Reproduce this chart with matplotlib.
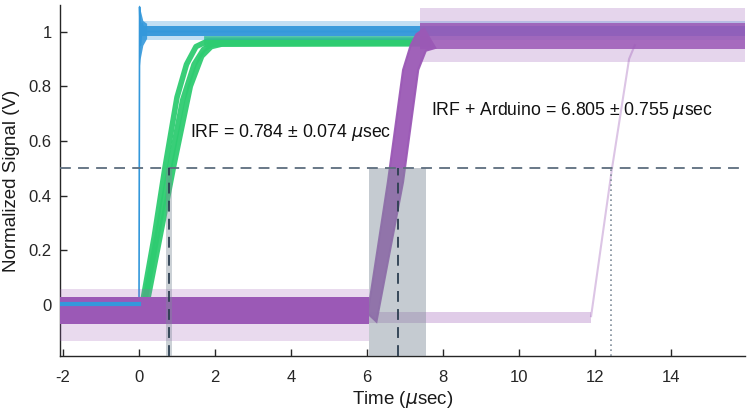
import numpy as np
import matplotlib
matplotlib.use("Agg")
import matplotlib.pyplot as plt

plt.rcParams['font.family'] = ['Liberation Sans', 'DejaVu Sans']
plt.rcParams['mathtext.fontset'] = 'dejavusans'

# ---------------- data ----------------
t_start, t_end = -2.08, 15.95

# IRF (blue) step trace
blue_t = [t_start, 0.0, 0.015, 0.04, 0.08, 0.15, t_end]
blue_v = [0.005, 0.005, 1.09, 0.95, 1.03, 1.0, 1.0]
blue_band_t = [0.05, t_end]
blue_band_lo = [0.982, 0.982]
blue_band_hi = [1.022, 1.022]
blue_spike_t = [0.0, 0.03, 0.1, 0.2]
blue_spike_lo = [0.86, 0.9, 0.95, 0.975]
blue_spike_hi = [1.1, 1.08, 1.04, 1.03]

# Photodiode (green) ramps: three strands
green_a_t = [t_start, 0.08, 0.4, 0.68, 1.0, 1.25, 1.5, 1.8, 7.6]
green_a_v = [0.0, 0.0, 0.25, 0.5, 0.76, 0.88, 0.945, 0.965, 0.965]
green_b_t = [t_start, 0.13, 0.5, 0.8, 1.15, 1.45, 1.7, 2.0, 7.6]
green_b_v = [0.0, 0.0, 0.27, 0.5, 0.75, 0.88, 0.935, 0.96, 0.96]
green_c_t = [t_start, 0.2, 0.58, 0.9, 1.35, 1.65, 1.9, 2.2, 7.6]
green_c_v = [0.0, 0.0, 0.27, 0.5, 0.8, 0.91, 0.945, 0.955, 0.955]
green_band_t = [1.7, 7.6]
green_band_lo = [0.945, 0.95]
green_band_hi = [0.985, 0.985]

# IRF + Arduino (purple)
purple_low_t = [t_start, 6.05]
purple_low_lo = [-0.07, -0.07]
purple_low_hi = [0.03, 0.03]
purple_low_faint_lo = [-0.13, -0.13]
purple_low_faint_hi = [0.06, 0.06]
purple_ramp_left_t = [6.02, 6.55, 6.95, 7.15, 7.3, 7.5]
purple_ramp_left_v = [-0.03, 0.45, 0.86, 0.95, 0.99, 1.01]
purple_ramp_right_t = [6.25, 6.95, 7.35, 7.55, 7.8]
purple_ramp_right_v = [-0.06, 0.45, 0.86, 0.93, 0.94]
purple_high_t = [7.4, t_end]
purple_high_lo = [0.935, 0.935]
purple_high_hi = [1.03, 1.03]
purple_high_faint_lo = [0.89, 0.89]
purple_high_faint_hi = [1.085, 1.085]

# single late purple trace
late_low_t = [6.05, 11.9]
late_low_lo = [-0.065, -0.065]
late_low_hi = [-0.025, -0.025]
late_ramp_t = [11.9, 12.45, 12.9, 13.05]
late_ramp_v = [-0.04, 0.5, 0.9, 0.95]

# statistics
threshold = 0.5
irf_mean, irf_std = 0.784, 0.074
ard_mean, ard_std = 6.805, 0.755
late_cross = 12.42

xticks = [-2, 0, 2, 4, 6, 8, 10, 12, 14]
yticks = [0, 0.2, 0.4, 0.6, 0.8, 1]
ytick_labels = ['0', '0.2', '0.4', '0.6', '0.8', '1']
y_lim = (-0.186, 1.097)

BLUE = '#3498db'
GREEN = '#2ecc71'
PURPLE = '#9b59b6'

# ---------------- figure ----------------
fig = plt.figure(figsize=(7.5, 4.17), dpi=100)
ax = fig.add_axes([0.08, 0.146, 0.9133, 0.842])

# green (bottom layer)
ax.fill_between(green_band_t, green_band_lo, green_band_hi, color=GREEN, lw=0, alpha=0.85, zorder=2)
for gt, gv in [(green_a_t, green_a_v), (green_b_t, green_b_v), (green_c_t, green_c_v)]:
    ax.plot(gt, gv, color=GREEN, lw=4.0, alpha=0.95, solid_joinstyle='round', zorder=2)

# blue
ax.fill_between(blue_band_t, [v - 0.012 for v in blue_band_lo], [v + 0.015 for v in blue_band_hi],
                color=BLUE, lw=0, alpha=0.3, zorder=3)
ax.fill_between(blue_band_t, blue_band_lo, blue_band_hi, color=BLUE, lw=0, alpha=0.95, zorder=3)
ax.fill_between(blue_spike_t, blue_spike_lo, blue_spike_hi, color=BLUE, lw=0, alpha=0.9, zorder=3)
ax.plot(blue_t, blue_v, color=BLUE, lw=1.2, zorder=3)
ax.plot(blue_t[:2], blue_v[:2], color=BLUE, lw=3.0, zorder=5)

# purple
ax.fill_between(purple_low_t, purple_low_faint_lo, purple_low_faint_hi, color=PURPLE, lw=0, alpha=0.22, zorder=4)
ax.fill_between(purple_low_t, purple_low_lo, purple_low_hi, color=PURPLE, lw=0, alpha=1.0, zorder=4)
ramp_x = np.concatenate([purple_ramp_left_t, purple_ramp_right_t[::-1]])
ramp_y = np.concatenate([purple_ramp_left_v, purple_ramp_right_v[::-1]])
ax.fill(ramp_x, ramp_y, color=PURPLE, lw=1.5, ec=PURPLE, alpha=0.95, zorder=4)
ax.fill_between(purple_high_t, purple_high_faint_lo, purple_high_faint_hi, color=PURPLE, lw=0, alpha=0.25, zorder=4)
ax.fill_between(purple_high_t, purple_high_lo, purple_high_hi, color=PURPLE, lw=0, alpha=0.85, zorder=4)

# late faint trace
ax.fill_between(late_low_t, late_low_lo, late_low_hi, color=PURPLE, lw=0, alpha=0.3, zorder=4)
ax.plot(late_ramp_t, late_ramp_v, color=PURPLE, lw=1.5, alpha=0.35, zorder=4)

# shaded std regions
span_top = (threshold - y_lim[0]) / (y_lim[1] - y_lim[0])
ax.axvspan(irf_mean - irf_std, irf_mean + irf_std, ymin=0, ymax=span_top,
           color='#7f8c99', alpha=0.4, lw=0, zorder=6)
ax.axvspan(ard_mean - ard_std, ard_mean + ard_std, ymin=0, ymax=span_top,
           color='#7f8c99', alpha=0.45, lw=0, zorder=6)

# threshold lines
ax.axhline(threshold, color='#5d6d7e', lw=1.3, ls=(0, (6, 4)), zorder=7)
ax.plot([irf_mean, irf_mean], [y_lim[0], threshold], color='#2c3e50', lw=1.3, ls=(0, (6, 4)), zorder=7)
ax.plot([ard_mean, ard_mean], [y_lim[0], threshold], color='#2c3e50', lw=1.3, ls=(0, (6, 4)), zorder=7)
ax.plot([late_cross, late_cross], [y_lim[0], threshold], color='#7f8c99', lw=1.2, ls=(0, (1, 2)), zorder=7)

# annotations
ax.text(1.34, 0.63, f'IRF = {irf_mean:.3f} ± {irf_std:.3f} $\\mu$sec', fontsize=12.7,
        va='center', ha='left', color='#111111', zorder=8)
ax.text(7.68, 0.713, f'IRF + Arduino = {ard_mean:.3f} ± {ard_std:.3f} $\\mu$sec', fontsize=12.7,
        va='center', ha='left', color='#111111', zorder=8)

# axes styling
ax.set_xlim(t_start, t_end)
ax.set_ylim(*y_lim)
ax.set_xticks(xticks)
ax.set_xticklabels([str(x) for x in xticks])
ax.set_yticks(yticks)
ax.set_yticklabels(ytick_labels)
for s in ['top', 'right']:
    ax.spines[s].set_visible(False)
for s in ['left', 'bottom']:
    ax.spines[s].set_color('#262626')
    ax.spines[s].set_linewidth(1.0)
ax.tick_params(direction='in', length=5, width=1.0, colors='#262626', labelsize=12)
ax.tick_params(axis='x', pad=10)
ax.tick_params(axis='y', pad=6)
ax.set_xlabel('Time ($\\mu$sec)', fontsize=13.5, color='#1a1a1a', labelpad=3)
ax.set_ylabel('Normalized Signal (V)', fontsize=13.5, color='#1a1a1a', labelpad=6)

fig.savefig('out.png', dpi=100)
